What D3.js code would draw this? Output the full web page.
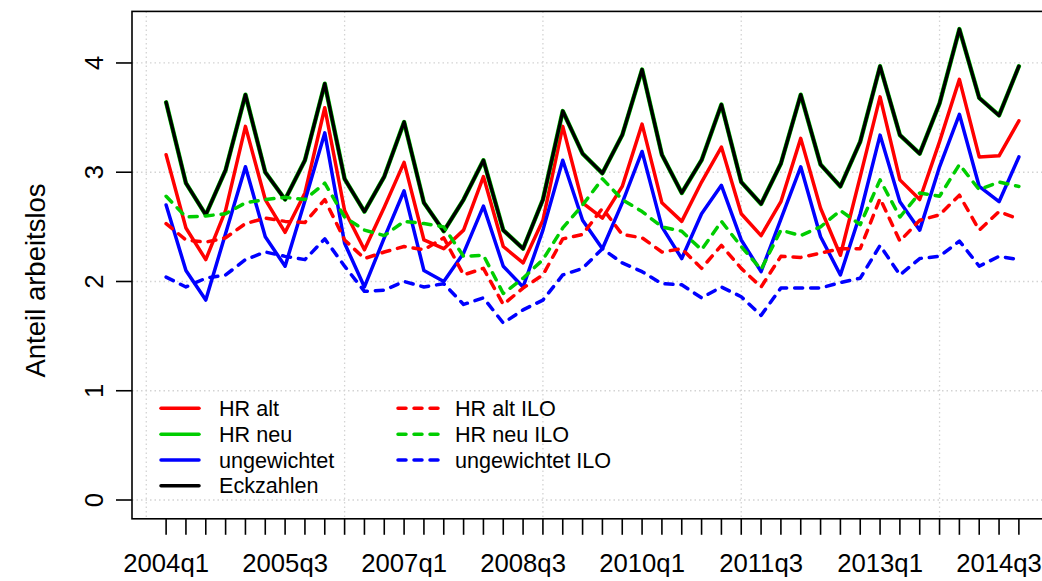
<!DOCTYPE html>
<html>
<head>
<meta charset="utf-8">
<script src="https://cdn.jsdelivr.net/npm/d3@7"></script>
<style>
  body { margin: 0; background: #fff; }
  text { font-family: "Liberation Sans", Arial, Helvetica, sans-serif; fill: #000; }
</style>
</head>
<body>
<div id="chart"></div>
<script>
var quarters = ["2004q1","2004q2","2004q3","2004q4","2005q1","2005q2","2005q3","2005q4",
  "2006q1","2006q2","2006q3","2006q4","2007q1","2007q2","2007q3","2007q4",
  "2008q1","2008q2","2008q3","2008q4","2009q1","2009q2","2009q3","2009q4",
  "2010q1","2010q2","2010q3","2010q4","2011q1","2011q2","2011q3","2011q4",
  "2012q1","2012q2","2012q3","2012q4","2013q1","2013q2","2013q3","2013q4",
  "2014q1","2014q2","2014q3","2014q4"];

var hrAlt = [3.16,2.49,2.20,2.65,3.42,2.75,2.45,2.81,3.59,2.65,2.29,2.68,3.09,2.38,2.30,2.47,
  2.96,2.32,2.17,2.56,3.42,2.72,2.58,2.87,3.44,2.72,2.55,2.91,3.23,2.62,2.42,2.73,
  3.31,2.67,2.24,2.96,3.69,2.93,2.75,3.28,3.85,3.14,3.15,3.47];
var hrNeu = [3.64,2.90,2.61,3.02,3.71,3.00,2.75,3.11,3.81,2.94,2.64,2.96,3.46,2.72,2.46,2.75,
  3.11,2.47,2.30,2.75,3.56,3.17,2.99,3.34,3.94,3.16,2.81,3.11,3.62,2.91,2.71,3.08,
  3.71,3.07,2.87,3.28,3.97,3.34,3.17,3.63,4.31,3.68,3.52,3.97];
var ungewichtet = [2.70,2.10,1.83,2.44,3.05,2.41,2.14,2.74,3.36,2.35,1.95,2.40,2.83,2.10,2.00,2.26,
  2.69,2.14,1.95,2.47,3.11,2.56,2.30,2.72,3.19,2.50,2.21,2.62,2.88,2.38,2.09,2.57,
  3.05,2.41,2.06,2.62,3.34,2.73,2.47,3.05,3.53,2.87,2.73,3.14];
var eckzahlen = [3.64,2.90,2.61,3.02,3.71,3.00,2.75,3.11,3.81,2.94,2.64,2.96,3.46,2.72,2.46,2.75,
  3.11,2.47,2.30,2.75,3.56,3.17,2.99,3.34,3.94,3.16,2.81,3.11,3.62,2.91,2.71,3.08,
  3.71,3.07,2.87,3.28,3.97,3.34,3.17,3.63,4.31,3.68,3.52,3.97];
var hrAltIlo = [2.53,2.38,2.36,2.40,2.53,2.58,2.55,2.54,2.75,2.38,2.21,2.27,2.32,2.29,2.40,2.06,
  2.12,1.79,1.94,2.06,2.39,2.43,2.67,2.43,2.40,2.27,2.30,2.12,2.33,2.12,1.95,2.23,
  2.22,2.26,2.30,2.30,2.76,2.37,2.56,2.61,2.79,2.47,2.64,2.57];
var hrNeuIlo = [2.78,2.59,2.60,2.62,2.72,2.75,2.77,2.75,2.90,2.59,2.47,2.42,2.55,2.53,2.50,2.23,
  2.24,1.89,2.03,2.20,2.49,2.70,2.94,2.75,2.64,2.50,2.46,2.29,2.55,2.32,2.11,2.47,
  2.42,2.50,2.65,2.52,2.93,2.59,2.81,2.78,3.07,2.84,2.91,2.87];
var ungewichtetIlo = [2.04,1.95,2.03,2.06,2.20,2.27,2.23,2.20,2.39,2.14,1.91,1.92,2.00,1.95,1.98,1.79,
  1.85,1.62,1.74,1.83,2.06,2.12,2.30,2.17,2.09,1.98,1.97,1.85,1.95,1.86,1.69,1.94,
  1.94,1.94,1.99,2.03,2.33,2.06,2.21,2.23,2.37,2.14,2.23,2.20];

var yTicks = [0, 1, 2, 3, 4];
var xGrid = [0, 10, 20, 30, 40];

var series = [
  {name: "HR alt", values: hrAlt, color: "#ff0000", dash: null, w: 3.5},
  {name: "HR neu", values: hrNeu, color: "#00cd00", dash: null, w: 4.4},
  {name: "ungewichtet", values: ungewichtet, color: "#0000ff", dash: null, w: 3.5},
  {name: "Eckzahlen", values: eckzahlen, color: "#000000", dash: null, w: 3.4},
  {name: "HR alt ILO", values: hrAltIlo, color: "#ff0000", dash: "8,8", w: 3.5},
  {name: "HR neu ILO", values: hrNeuIlo, color: "#00cd00", dash: "8,8", w: 3.5},
  {name: "ungewichtet ILO", values: ungewichtetIlo, color: "#0000ff", dash: "8,8", w: 3.5}
];

var width = 1042,
    height = 581;

var plotL = 132, plotR = 1053, plotT = 11.4, plotB = 518.8;

// x uses 1..44 like R's index, 4% padding on each side
var x = d3.scaleLinear().domain([-0.72, 45.72]).range([plotL, plotR]);
var y = d3.scaleLinear().domain([-0.172, 4.472]).range([plotB, plotT]);

var svg = d3.select("#chart").append("svg")
    .attr("width", width)
    .attr("height", height);

svg.append("rect").attr("width", width).attr("height", height).attr("fill", "#fff");

svg.append("defs").append("clipPath").attr("id", "clip")
  .append("rect")
    .attr("x", plotL).attr("y", plotT)
    .attr("width", plotR - plotL).attr("height", plotB - plotT);

// grid
var grid = svg.append("g").attr("clip-path", "url(#clip)")
    .attr("stroke", "#d3d3d3").attr("stroke-width", 1.3).attr("stroke-dasharray", "1.5,3");
grid.selectAll(".gx").data(xGrid).enter().append("line")
    .attr("x1", function(d) { return x(d); }).attr("x2", function(d) { return x(d); })
    .attr("y1", plotT).attr("y2", plotB);
grid.selectAll(".gy").data(yTicks).enter().append("line")
    .attr("y1", function(d) { return y(d); }).attr("y2", function(d) { return y(d); })
    .attr("x1", plotL).attr("x2", plotR);

var line = d3.line()
    .x(function(d, i) { return x(i + 1); })
    .y(function(d) { return y(d); });

var plot = svg.append("g").attr("clip-path", "url(#clip)");
plot.selectAll("path").data(series).enter().append("path")
    .attr("d", function(d) { return line(d.values); })
    .attr("fill", "none")
    .attr("stroke", function(d) { return d.color; })
    .attr("stroke-width", function(d) { return d.w; })
    .attr("stroke-dasharray", function(d) { return d.dash; })
    .attr("stroke-linejoin", "round")
    .attr("stroke-linecap", "round");

// box
svg.append("rect")
    .attr("x", plotL).attr("y", plotT)
    .attr("width", plotR - plotL).attr("height", plotB - plotT)
    .attr("fill", "none").attr("stroke", "#000").attr("stroke-width", 1.6);

// y axis
var yAxis = svg.append("g");
yAxis.selectAll(".tick").data(yTicks).enter().append("line")
    .attr("x1", plotL).attr("x2", plotL - 16)
    .attr("y1", function(d) { return y(d); }).attr("y2", function(d) { return y(d); })
    .attr("stroke", "#000").attr("stroke-width", 1.6);
yAxis.selectAll("text").data(yTicks).enter().append("text")
    .attr("transform", function(d) { return "translate(103," + y(d) + ") rotate(-90)"; })
    .attr("text-anchor", "middle")
    .style("font-size", "25.7px")
    .text(function(d) { return d; });

svg.append("text")
    .attr("transform", "translate(45," + (y(2) - 1) + ") rotate(-90)")
    .attr("text-anchor", "middle")
    .style("font-size", "27.5px")
    .text("Anteil arbeitslos");

// x axis: one tick per quarter, label every 6th
var xAxis = svg.append("g");
xAxis.selectAll(".tick").data(quarters).enter().append("line")
    .attr("x1", function(d, i) { return x(i + 1); }).attr("x2", function(d, i) { return x(i + 1); })
    .attr("y1", plotB).attr("y2", plotB + 16)
    .attr("stroke", "#000").attr("stroke-width", 1.6);
xAxis.selectAll("text").data(quarters.filter(function(d, i) { return i % 6 === 0; })).enter().append("text")
    .attr("x", function(d) { return x(quarters.indexOf(d) + 1); })
    .attr("y", 572)
    .attr("text-anchor", "middle")
    .style("font-size", "25.7px")
    .text(function(d) { return d; });

// legend
var legend = svg.append("g");
var rows = [408.3, 434.3, 460, 485.7];
series.forEach(function(s, k) {
  var col = k < 4 ? 0 : 1;
  var row = k < 4 ? k : k - 4;
  var lx = col ? 398 : 161, tx = col ? 455 : 219;
  legend.append("line")
      .attr("x1", lx).attr("x2", lx + (col ? 40 : 38))
      .attr("y1", rows[row]).attr("y2", rows[row])
      .attr("stroke", s.color).attr("stroke-width", 3.5)
      .attr("stroke-dasharray", s.dash)
      .attr("stroke-linecap", "round");
  legend.append("text")
      .attr("x", tx).attr("y", rows[row] + 7.7)
      .style("font-size", "21.6px")
      .text(s.name);
});
</script>
</body>
</html>
